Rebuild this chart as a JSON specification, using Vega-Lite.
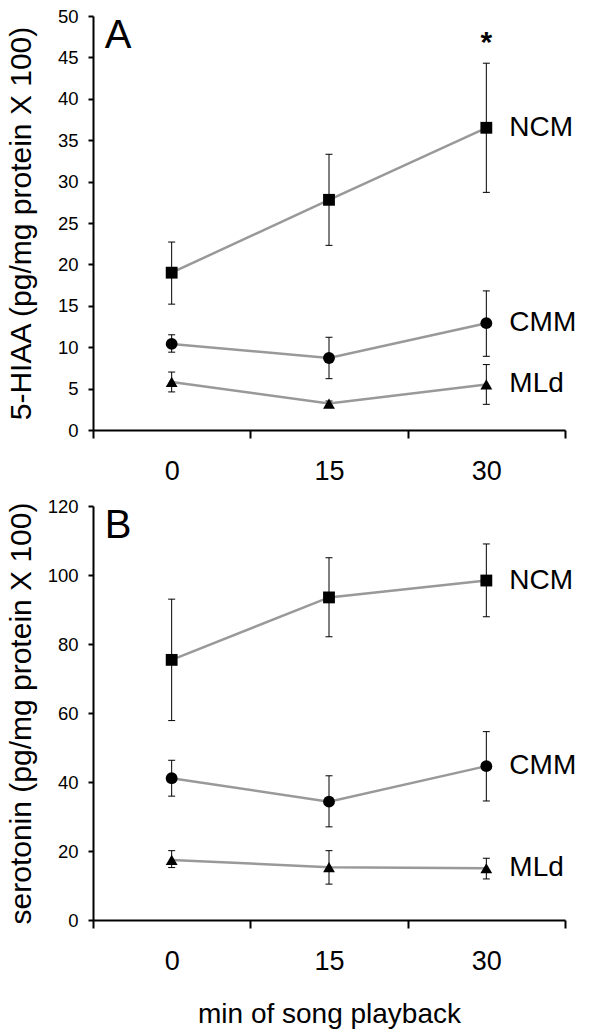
{
  "$schema": "https://vega.github.io/schema/vega-lite/v6.json",
  "padding": {"left": 5, "top": 7, "right": 5, "bottom": 5},
  "bounds": "flush",
  "spacing": 76,
  "config": {
    "font": "Liberation Sans",
    "view": {"stroke": null},
    "axis": {"domainColor": "black", "domainWidth": 2, "tickColor": "black", "tickWidth": 2, "labelColor": "black", "titleColor": "black", "grid": false, "titleFontWeight": "normal", "labelFont": "Liberation Sans", "titleFont": "Liberation Sans"}
  },
  "datasets": {
    "a": [
      {"t": "0", "region": "NCM", "mean": 19.0, "lo": 15.2, "hi": 22.7},
      {"t": "15", "region": "NCM", "mean": 27.8, "lo": 22.3, "hi": 33.3},
      {"t": "30", "region": "NCM", "mean": 36.5, "lo": 28.7, "hi": 44.3},
      {"t": "0", "region": "CMM", "mean": 10.4, "lo": 9.4, "hi": 11.5},
      {"t": "15", "region": "CMM", "mean": 8.7, "lo": 6.2, "hi": 11.2},
      {"t": "30", "region": "CMM", "mean": 12.9, "lo": 8.9, "hi": 16.8},
      {"t": "0", "region": "MLd", "mean": 5.8, "lo": 4.6, "hi": 7.0},
      {"t": "15", "region": "MLd", "mean": 3.2, "lo": 2.9, "hi": 3.5},
      {"t": "30", "region": "MLd", "mean": 5.5, "lo": 3.1, "hi": 7.9}
    ],
    "b": [
      {"t": "0", "region": "NCM", "mean": 75.4, "lo": 57.8, "hi": 93.0},
      {"t": "15", "region": "NCM", "mean": 93.5, "lo": 82.1, "hi": 105.0},
      {"t": "30", "region": "NCM", "mean": 98.4, "lo": 87.9, "hi": 109.0},
      {"t": "0", "region": "CMM", "mean": 41.1, "lo": 35.9, "hi": 46.3},
      {"t": "15", "region": "CMM", "mean": 34.3, "lo": 27.0, "hi": 41.8},
      {"t": "30", "region": "CMM", "mean": 44.6, "lo": 34.5, "hi": 54.6},
      {"t": "0", "region": "MLd", "mean": 17.4, "lo": 15.2, "hi": 20.1},
      {"t": "15", "region": "MLd", "mean": 15.3, "lo": 10.4, "hi": 20.1},
      {"t": "30", "region": "MLd", "mean": 15.0, "lo": 11.9, "hi": 17.9}
    ],
    "starA": [{"t": "30", "y": 45.6, "s": "*"}],
    "panelA": [{"label": "A"}],
    "panelB": [{"label": "B"}]
  },
  "vconcat": [
    {
      "width": 472,
      "height": 414,
      "data": {"name": "a"},
      "encoding": {
        "x": {"field": "t", "type": "ordinal", "sort": ["0", "15", "30"], "scale": {"type": "band", "paddingInner": 0, "paddingOuter": 0},
          "axis": {"title": null, "tickBand": "extent", "tickSize": 8, "labelFontSize": 27, "labelPadding": 20, "labelAngle": 0}}
      },
      "layer": [
        {"mark": {"type": "line", "color": "#999999", "strokeWidth": 2.5},
         "encoding": {"y": {"field": "mean", "type": "quantitative", "scale": {"domain": [0, 50], "nice": false},
            "axis": {"title": "5-HIAA (pg/mg protein X 100)", "values": [0, 5, 10, 15, 20, 25, 30, 35, 40, 45, 50], "tickSize": 5, "labelFontSize": 18.5, "labelPadding": 10, "titleFontSize": 30, "titleX": -63, "titleBaseline": "alphabetic"}},
          "detail": {"field": "region"}}},
        {"mark": {"type": "rule", "color": "black", "strokeWidth": 1},
         "encoding": {"y": {"field": "lo", "type": "quantitative"}, "y2": {"field": "hi"}}},
        {"mark": {"type": "tick", "color": "black", "thickness": 1, "size": 7, "opacity": 1},
         "encoding": {"y": {"field": "lo", "type": "quantitative"}}},
        {"mark": {"type": "tick", "color": "black", "thickness": 1, "size": 7, "opacity": 1},
         "encoding": {"y": {"field": "hi", "type": "quantitative"}}},
        {"mark": {"type": "point", "filled": true, "color": "black", "opacity": 1, "size": 140},
         "encoding": {"y": {"field": "mean", "type": "quantitative"},
           "shape": {"field": "region", "type": "nominal", "scale": {"domain": ["NCM", "CMM", "MLd"], "range": ["square", "circle", "triangle-up"]}, "legend": null}}},
        {"transform": [{"filter": "datum.t == '30'"}],
         "mark": {"type": "text", "align": "left", "baseline": "middle", "dx": 23, "fontSize": 28, "color": "black"},
         "encoding": {"y": {"field": "mean", "type": "quantitative"}, "text": {"field": "region"}}},
        {"data": {"name": "starA"},
         "mark": {"type": "text", "align": "center", "baseline": "alphabetic", "fontSize": 30, "fontWeight": "bold", "color": "black"},
         "encoding": {"y": {"field": "y", "type": "quantitative"}, "text": {"field": "s"}}},
        {"data": {"name": "panelA"},
         "mark": {"type": "text", "align": "left", "baseline": "top", "fontSize": 40, "dx": -67, "dy": 0, "color": "black"},
         "encoding": {"x": {"datum": "0"}, "y": {"datum": 50}, "text": {"field": "label"}}}
      ]
    },
    {
      "width": 472,
      "height": 414,
      "data": {"name": "b"},
      "encoding": {
        "x": {"field": "t", "type": "ordinal", "sort": ["0", "15", "30"], "scale": {"type": "band", "paddingInner": 0, "paddingOuter": 0},
          "axis": {"title": "min of song playback", "tickBand": "extent", "tickSize": 8, "labelFontSize": 27, "labelPadding": 20, "labelAngle": 0, "titleFontSize": 28, "titleY": 102, "titleBaseline": "alphabetic"}}
      },
      "layer": [
        {"mark": {"type": "line", "color": "#999999", "strokeWidth": 2.5},
         "encoding": {"y": {"field": "mean", "type": "quantitative", "scale": {"domain": [0, 120], "nice": false},
            "axis": {"title": "serotonin (pg/mg protein X 100)", "values": [0, 20, 40, 60, 80, 100, 120], "tickSize": 5, "labelFontSize": 18.5, "labelPadding": 10, "titleFontSize": 30, "titleX": -63, "titleBaseline": "alphabetic"}},
          "detail": {"field": "region"}}},
        {"mark": {"type": "rule", "color": "black", "strokeWidth": 1},
         "encoding": {"y": {"field": "lo", "type": "quantitative"}, "y2": {"field": "hi"}}},
        {"mark": {"type": "tick", "color": "black", "thickness": 1, "size": 7, "opacity": 1},
         "encoding": {"y": {"field": "lo", "type": "quantitative"}}},
        {"mark": {"type": "tick", "color": "black", "thickness": 1, "size": 7, "opacity": 1},
         "encoding": {"y": {"field": "hi", "type": "quantitative"}}},
        {"mark": {"type": "point", "filled": true, "color": "black", "opacity": 1, "size": 140},
         "encoding": {"y": {"field": "mean", "type": "quantitative"},
           "shape": {"field": "region", "type": "nominal", "scale": {"domain": ["NCM", "CMM", "MLd"], "range": ["square", "circle", "triangle-up"]}, "legend": null}}},
        {"transform": [{"filter": "datum.t == '30'"}],
         "mark": {"type": "text", "align": "left", "baseline": "middle", "dx": 23, "fontSize": 28, "color": "black"},
         "encoding": {"y": {"field": "mean", "type": "quantitative"}, "text": {"field": "region"}}},
        {"data": {"name": "panelB"},
         "mark": {"type": "text", "align": "left", "baseline": "top", "fontSize": 40, "dx": -67, "dy": 0, "color": "black"},
         "encoding": {"x": {"datum": "0"}, "y": {"datum": 120}, "text": {"field": "label"}}}
      ]
    }
  ]
}
